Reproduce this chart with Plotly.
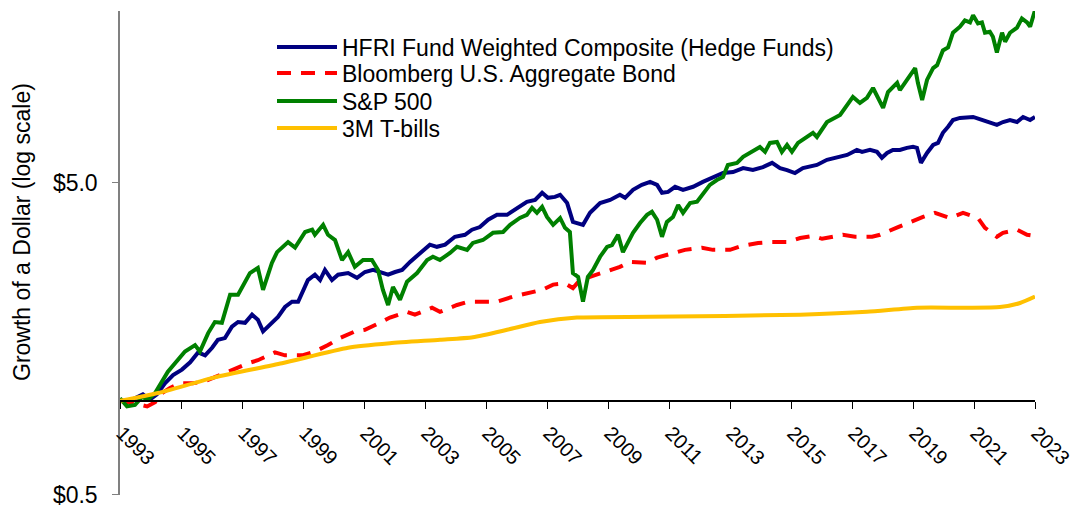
import math
import plotly.graph_objects as go

# values (growth of $1, log scale)
hfri_years = [1993.00, 1993.26, 1993.49, 1993.75, 1993.98, 1994.21, 1994.48, 1994.74, 1995.03, 1995.30,
              1995.56, 1995.79, 1996.02, 1996.21, 1996.44, 1996.67, 1996.87, 1997.10, 1997.33, 1997.52,
              1997.69, 1997.98, 1998.18, 1998.41, 1998.64, 1998.84, 1999.00, 1999.16, 1999.39, 1999.56,
              1999.72, 1999.95, 2000.15, 2000.48, 2000.77, 2001.03, 2001.30, 2001.52, 2001.79, 2002.02,
              2002.25, 2002.51, 2002.84, 2003.16, 2003.39, 2003.66, 2003.98, 2004.31, 2004.54, 2004.80,
              2005.07, 2005.36, 2005.69, 2006.02, 2006.34, 2006.61, 2006.84, 2007.03, 2007.26, 2007.43,
              2007.66, 2007.85, 2008.18, 2008.41, 2008.74, 2009.07, 2009.39, 2009.56, 2009.82, 2010.11,
              2010.38, 2010.61, 2010.77, 2010.97, 2011.20, 2011.46, 2011.79, 2012.11, 2012.44, 2012.77,
              2013.10, 2013.43, 2013.75, 2014.08, 2014.38, 2014.64, 2014.87, 2015.13, 2015.39, 2015.85,
              2016.18, 2016.51, 2016.84, 2017.16, 2017.33, 2017.59, 2017.82, 2017.98, 2018.15, 2018.34,
              2018.57, 2018.80, 2019.00, 2019.13, 2019.26, 2019.46, 2019.66, 2019.82, 2019.98, 2020.15,
              2020.31, 2020.54, 2020.77, 2020.97, 2021.26, 2021.52, 2021.75, 2021.95, 2022.18, 2022.41,
              2022.61, 2022.84, 2023.00]
hfri_values = [1.01, 0.99, 1.02, 1.05, 1.01, 1.05, 1.14, 1.21, 1.26, 1.33,
               1.43, 1.40, 1.48, 1.57, 1.59, 1.73, 1.79, 1.78, 1.89, 1.82,
               1.67, 1.78, 1.86, 2.00, 2.08, 2.08, 2.27, 2.44, 2.54, 2.44,
               2.63, 2.44, 2.54, 2.57, 2.48, 2.59, 2.63, 2.59, 2.54, 2.59,
               2.63, 2.79, 2.98, 3.17, 3.12, 3.17, 3.36, 3.41, 3.54, 3.61,
               3.81, 3.95, 3.95, 4.16, 4.35, 4.41, 4.65, 4.48, 4.51, 4.58,
               4.31, 3.75, 3.67, 4.01, 4.31, 4.41, 4.58, 4.48, 4.75, 4.93,
               5.04, 4.93, 4.65, 4.68, 4.86, 4.75, 4.86, 5.04, 5.19, 5.38,
               5.42, 5.58, 5.50, 5.62, 5.80, 5.58, 5.50, 5.38, 5.58, 5.71,
               5.93, 6.02, 6.15, 6.38, 6.29, 6.38, 6.29, 6.02, 6.24, 6.38,
               6.38, 6.48, 6.53, 6.48, 5.80, 6.24, 6.62, 6.72, 7.24, 7.57,
               7.96, 8.08, 8.08, 8.14, 7.96, 7.84, 7.68, 7.84, 7.96, 7.84,
               8.14, 7.96, 8.14]

bond_years = [1993.00, 1993.33, 1993.89, 1994.15, 1994.38, 1994.64, 1994.97, 1995.39, 1995.72, 1996.11,
              1996.54, 1997.20, 1997.52, 1998.08, 1998.41, 1998.97, 1999.39, 1999.82, 2000.21, 2000.70,
              2001.03, 2001.52, 2001.85, 2002.41, 2002.67, 2003.23, 2003.49, 2004.05, 2004.41, 2004.97,
              2005.36, 2005.89, 2006.28, 2006.84, 2007.20, 2007.59, 2007.85, 2008.08, 2008.41, 2008.84,
              2009.39, 2009.72, 2010.28, 2010.61, 2011.13, 2011.52, 2012.08, 2012.44, 2013.00, 2013.39,
              2013.92, 2014.31, 2014.87, 2015.30, 2015.72, 2016.02, 2016.70, 2017.10, 2017.66, 2017.92,
              2018.51, 2018.90, 2019.33, 2019.72, 2020.21, 2020.64, 2021.13, 2021.36, 2021.75, 2021.95,
              2022.41, 2022.74, 2023.00]
bond_values = [1.00, 0.99, 0.96, 0.99, 1.06, 1.10, 1.14, 1.14, 1.15, 1.19,
               1.24, 1.32, 1.35, 1.43, 1.40, 1.40, 1.44, 1.51, 1.59, 1.67,
               1.69, 1.78, 1.85, 1.93, 1.89, 1.99, 1.93, 2.03, 2.08, 2.08,
               2.08, 2.16, 2.20, 2.27, 2.36, 2.38, 2.30, 2.44, 2.50, 2.59,
               2.69, 2.79, 2.77, 2.88, 2.98, 3.05, 3.10, 3.05, 3.05, 3.14,
               3.21, 3.23, 3.23, 3.33, 3.38, 3.31, 3.41, 3.36, 3.36, 3.41,
               3.61, 3.75, 3.89, 4.01, 3.86, 4.01, 3.86, 3.59, 3.36, 3.46,
               3.54, 3.41, 3.38]

sp500_years = [1993.00, 1993.23, 1993.49, 1993.72, 1993.92, 1994.15, 1994.57, 1994.90, 1995.13, 1995.46,
               1995.62, 1995.89, 1996.11, 1996.34, 1996.61, 1996.87, 1997.26, 1997.52, 1997.69, 1997.98,
               1998.15, 1998.51, 1998.74, 1999.07, 1999.30, 1999.39, 1999.66, 1999.82, 2000.05, 2000.28,
               2000.48, 2000.70, 2000.97, 2001.26, 2001.46, 2001.62, 2001.79, 2001.95, 2002.18, 2002.41,
               2002.74, 2003.07, 2003.26, 2003.49, 2003.82, 2004.05, 2004.38, 2004.57, 2004.90, 2005.23,
               2005.56, 2005.79, 2006.11, 2006.34, 2006.51, 2006.67, 2006.84, 2007.00, 2007.20, 2007.43,
               2007.59, 2007.75, 2007.85, 2008.02, 2008.18, 2008.34, 2008.51, 2008.74, 2008.97, 2009.13,
               2009.33, 2009.49, 2009.66, 2009.82, 2010.05, 2010.28, 2010.44, 2010.61, 2010.77, 2010.93,
               2011.13, 2011.30, 2011.46, 2011.69, 2011.92, 2012.11, 2012.34, 2012.57, 2012.77, 2012.93,
               2013.23, 2013.43, 2013.72, 2013.98, 2014.15, 2014.31, 2014.54, 2014.70, 2014.87, 2015.03,
               2015.23, 2015.52, 2015.72, 2015.85, 2016.18, 2016.61, 2017.03, 2017.26, 2017.49, 2017.69,
               2017.85, 2018.02, 2018.18, 2018.48, 2018.57, 2018.80, 2019.07, 2019.16, 2019.30, 2019.46,
               2019.66, 2019.79, 2019.98, 2020.15, 2020.31, 2020.54, 2020.70, 2020.87, 2020.97, 2021.13,
               2021.26, 2021.36, 2021.52, 2021.62, 2021.75, 2021.92, 2022.02, 2022.18, 2022.41, 2022.57,
               2022.74, 2022.84, 2022.93, 2023.00]
sp500_values = [1.02, 0.96, 0.97, 1.03, 1.01, 1.06, 1.24, 1.35, 1.44, 1.51,
                1.44, 1.65, 1.79, 1.78, 2.19, 2.19, 2.57, 2.67, 2.27, 2.77,
                3.00, 3.23, 3.10, 3.48, 3.54, 3.41, 3.67, 3.41, 3.28, 2.83,
                3.00, 2.69, 2.83, 2.83, 2.63, 2.27, 2.03, 2.32, 2.11, 2.41,
                2.57, 2.83, 2.90, 2.83, 2.98, 3.12, 3.05, 3.21, 3.28, 3.46,
                3.48, 3.67, 3.86, 3.95, 4.16, 4.01, 4.19, 3.89, 3.67, 3.86,
                3.59, 3.48, 2.57, 2.50, 2.08, 2.50, 2.63, 2.90, 3.12, 3.16,
                3.41, 3.00, 3.21, 3.46, 3.72, 3.95, 4.04, 3.81, 3.36, 3.75,
                3.89, 4.25, 4.01, 4.31, 4.35, 4.58, 4.93, 5.11, 5.22, 5.71,
                5.80, 6.06, 6.29, 6.52, 6.29, 6.72, 6.77, 6.29, 6.62, 6.29,
                6.72, 7.02, 7.24, 7.02, 7.84, 8.26, 9.44, 9.03, 9.37, 10.08,
                9.37, 8.70, 9.78, 10.47, 9.93, 10.70, 11.67, 10.47, 9.23, 10.70,
                11.67, 11.93, 13.30, 13.60, 15.16, 15.85, 16.60, 16.36, 17.25, 16.24,
                16.36, 15.16, 15.27, 14.72, 13.10, 15.16, 14.19, 15.16, 15.73, 16.85,
                16.36, 15.85, 17.25, 17.90]

tbill_years = [1993.00, 1994.25, 1996.11, 1998.31, 2000.48, 2001.85, 2003.49, 2004.57, 2005.69, 2006.77,
               2007.98, 2010.38, 2015.30, 2017.49, 2019.13, 2020.77, 2021.85, 2022.51, 2023.00]
tbill_values = [1.00, 1.06, 1.19, 1.32, 1.48, 1.53, 1.57, 1.60, 1.69, 1.79,
                1.85, 1.86, 1.89, 1.93, 1.99, 1.99, 2.00, 2.06, 2.16]

tick_years = list(range(1993, 2024, 2))
y_min, y_max = 0.499, 17.8

FONT = "Arial, Liberation Sans, sans-serif"
W, H = 1075, 505
L, R, T, B = 120, 40, 11, 10
plot_h = H - T - B

def legend_box(y_pix):
    # one legend per entry so the rows sit where the reference puts them
    return dict(x=(272 - L) / (W - L - R), y=(H - B - y_pix) / plot_h,
                xanchor="left", yanchor="middle", bgcolor="rgba(0,0,0,0)",
                font=dict(family=FONT, size=23, color="black"), itemwidth=60)

fig = go.Figure()
fig.add_trace(go.Scatter(x=hfri_years, y=hfri_values, mode="lines",
                         name="HFRI Fund Weighted Composite (Hedge Funds)",
                         line=dict(color="#000080", width=4), legend="legend"))
fig.add_trace(go.Scatter(x=bond_years, y=bond_values, mode="lines",
                         name="Bloomberg U.S. Aggregate Bond",
                         line=dict(color="#FF0000", width=4, dash="14px,10px"), legend="legend2"))
fig.add_trace(go.Scatter(x=sp500_years, y=sp500_values, mode="lines",
                         name="S&P 500",
                         line=dict(color="#008000", width=4), legend="legend3"))
fig.add_trace(go.Scatter(x=tbill_years, y=tbill_values, mode="lines",
                         name="3M T-bills",
                         line=dict(color="#FFC000", width=4, shape="spline", smoothing=0.6),
                         legend="legend4"))

lo, hi = math.log10(y_min), math.log10(y_max)
x_axis_pos = (0 - lo) / (hi - lo)  # x axis crosses at $1

fig.update_layout(
    width=W, height=H,
    margin=dict(l=L, r=R, t=T, b=B),
    plot_bgcolor="white", paper_bgcolor="white",
    font=dict(family=FONT, size=23, color="black"),
    showlegend=True,
    legend=legend_box(47),
    legend2=legend_box(73),
    legend3=legend_box(101),
    legend4=legend_box(128),
    xaxis=dict(range=[1993, 2023], anchor="free", position=x_axis_pos,
               tickvals=tick_years, ticktext=[str(t) for t in tick_years],
               tickangle=45, ticks="outside", ticklen=7, tickcolor="black",
               ticklabelshift=2, ticklabelstandoff=5, ticklabeloverflow="allow",
               showline=True, linecolor="black", linewidth=1.5,
               showgrid=False, zeroline=False, automargin=False,
               tickfont=dict(family=FONT, size=20)),
    yaxis=dict(type="log", range=[lo, hi],
               tickvals=[0.5, 5], ticktext=["$0.5", "$5.0"],
               ticks="outside", ticklen=6, tickcolor="#808080",
               ticklabelstandoff=10, ticklabeloverflow="allow",
               showline=True, linecolor="#808080", linewidth=1.5,
               showgrid=False, zeroline=False, automargin=False,
               tickfont=dict(family=FONT, size=23)),
)

fig.add_annotation(text="Growth of a Dollar (log scale)", textangle=-90,
                   xref="paper", yref="paper", x=(22 - L) / (W - L - R), y=(H - B - 232) / plot_h,
                   xanchor="center", yanchor="middle", showarrow=False,
                   font=dict(family=FONT, size=23, color="black"))

fig.write_html("out.html", config={"displayModeBar": False},
               post_script="document.body.style.margin='0';")
